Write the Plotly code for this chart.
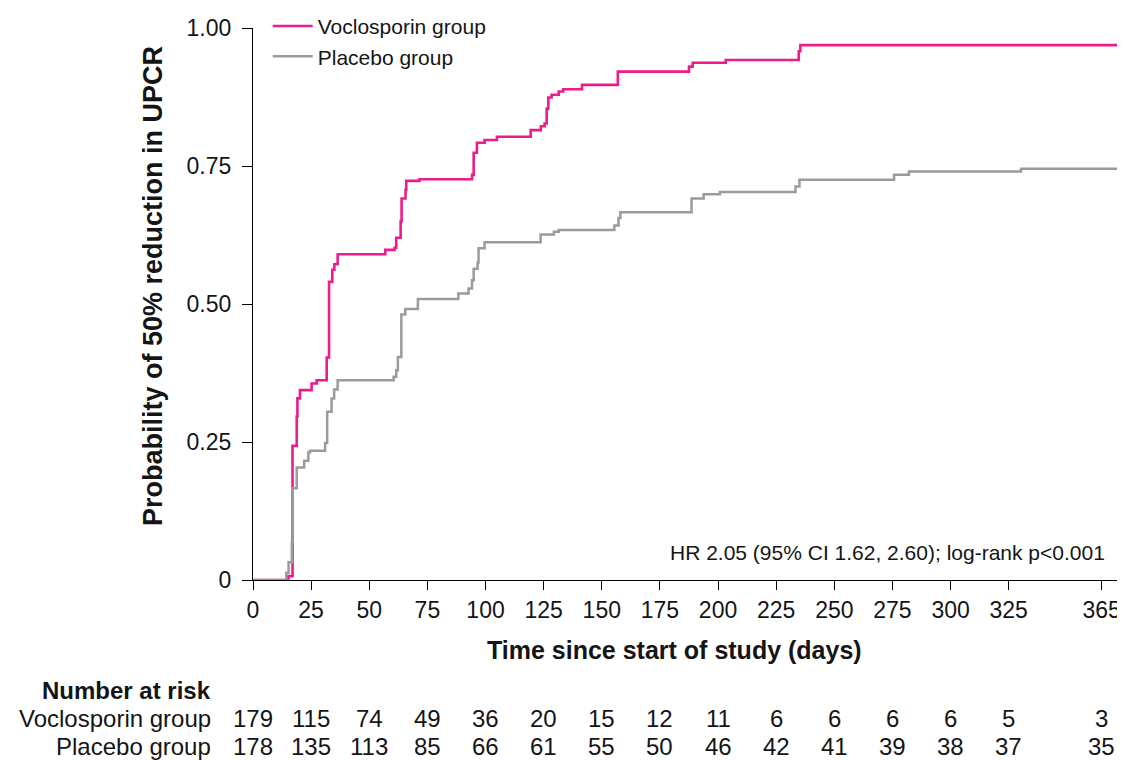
import plotly.graph_objects as go

# ---- data ----
voc_days = [0, 15.2, 17.0, 18.8, 19.1, 20.2, 25.2, 27.4, 31.7, 32.7, 34.1, 35.0, 36.4,
            56.9, 60.9, 61.6, 63.5, 63.9, 65.6, 65.9, 71.6, 94.2, 94.9, 96.3, 99.6,
            104.9, 119.4, 123.8, 125.4, 126.3, 127.0, 128.4, 131.5, 133.4, 141.5,
            156.9, 187.5, 189.1, 203.3, 234.7, 235.4, 372]
voc_prob = [0, 0.007, 0.243, 0.296, 0.329, 0.344, 0.356, 0.362, 0.403, 0.540, 0.562, 0.572, 0.590,
            0.598, 0.602, 0.620, 0.650, 0.691, 0.707, 0.723, 0.726, 0.734, 0.774, 0.792, 0.797,
            0.803, 0.815, 0.822, 0.827, 0.854, 0.874, 0.879, 0.885, 0.889, 0.897,
            0.921, 0.930, 0.937, 0.942, 0.958, 0.969, 0.969]

pla_days = [0, 14.3, 15.3, 16.7, 17.1, 18.8, 22.0, 23.8, 24.5, 31.0, 31.9, 33.8, 34.9, 36.4,
            60.5, 61.6, 62.3, 63.8, 65.5, 70.9, 88.3, 92.7, 94.2, 94.9, 96.6, 97.0, 99.6,
            123.7, 129.4, 131.5, 155.4, 157.2, 158.0, 188.6, 193.8, 200.8, 233.3, 235.0,
            275.7, 282.1, 330.3, 372]
pla_prob = [0, 0.013, 0.032, 0.068, 0.166, 0.204, 0.216, 0.231, 0.234, 0.248, 0.305, 0.329, 0.345, 0.362,
            0.368, 0.380, 0.404, 0.481, 0.491, 0.509, 0.519, 0.528, 0.543, 0.564, 0.575, 0.601, 0.612,
            0.626, 0.631, 0.634, 0.642, 0.656, 0.666, 0.691, 0.699, 0.703, 0.713, 0.725,
            0.734, 0.740, 0.745, 0.745]

x_ticks = [0, 25, 50, 75, 100, 125, 150, 175, 200, 225, 250, 275, 300, 325, 365]
y_ticks = [0, 0.25, 0.5, 0.75, 1.0]
y_tick_labels = ["0", "0.25", "0.50", "0.75", "1.00"]

risk_voc = [179, 115, 74, 49, 36, 20, 15, 12, 11, 6, 6, 6, 6, 5, 3]
risk_pla = [178, 135, 113, 85, 66, 61, 55, 50, 46, 42, 41, 39, 38, 37, 35]

names = ["Voclosporin group", "Placebo group"]
hr_text = "HR 2.05 (95% CI 1.62, 2.60); log-rank p<0.001"

# ---- styling ----
PINK = "#EC1C8C"
GREY = "#9B9B9B"
FONT = "Liberation Sans, Arial, sans-serif"
TXT = "#151515"

OFF = 8  # default page body margin in the browser
W, H = 1125 - OFF, 760 - OFF
ML, MT = 253 - OFF, 28 - OFF
PLOT_R = 1118 - OFF
PLOT_B = 580 - OFF
MR, MB = W - PLOT_R, H - PLOT_B
PW, PH = W - ML - MR, H - MT - MB
X_MAX = 372


def py2paper(py):  # reference page pixel (y) -> paper coordinate
    return (PLOT_B - (py - OFF)) / PH


def px2paper(px):  # reference page pixel (x) -> paper coordinate
    return ((px - OFF) - ML) / PW


fig = go.Figure()
fig.add_trace(go.Scatter(x=voc_days, y=voc_prob, mode="lines", name=names[0],
                         line=dict(color=PINK, width=2.6, shape="hv")))
fig.add_trace(go.Scatter(x=pla_days, y=pla_prob, mode="lines", name=names[1],
                         line=dict(color=GREY, width=2.5, shape="hv")))

ann = []
ann.append(dict(text="<b>Probability of 50% reduction in UPCR</b>", xref="paper", yref="paper",
                x=px2paper(153), y=py2paper(286), textangle=-90,
                showarrow=False, xanchor="center", yanchor="middle",
                font=dict(size=27, color=TXT, family=FONT)))
ann.append(dict(text="<b>Time since start of study (days)</b>", xref="paper", yref="paper",
                x=px2paper(674), y=py2paper(649.5),
                showarrow=False, xanchor="center", yanchor="middle",
                font=dict(size=25, color=TXT, family=FONT)))
ann.append(dict(text=hr_text, xref="paper", yref="paper",
                x=px2paper(1107), y=py2paper(552),
                showarrow=False, xanchor="right", yanchor="middle",
                font=dict(size=21, color=TXT, family=FONT)))
lab_x = px2paper(212)
ann.append(dict(text="<b>Number at risk</b>", xref="paper", yref="paper", x=lab_x, y=py2paper(690.5),
                showarrow=False, xanchor="right", yanchor="middle", borderpad=0,
                font=dict(size=24, color=TXT, family=FONT)))
for label, row, py in [(names[0], risk_voc, 718.5), (names[1], risk_pla, 746.2)]:
    ann.append(dict(text=label, xref="paper", yref="paper", x=lab_x, y=py2paper(py),
                    showarrow=False, xanchor="right", yanchor="middle", borderpad=0,
                    font=dict(size=24, color=TXT, family=FONT)))
    for t, n in zip(x_ticks, row):
        ann.append(dict(text=str(n), xref="x", yref="paper", x=t, y=py2paper(py),
                        showarrow=False, xanchor="center", yanchor="middle", borderpad=0,
                        font=dict(size=24, color=TXT, family=FONT)))

fig.update_layout(
    width=W, height=H,
    margin=dict(l=ML, r=MR, t=MT, b=MB, pad=0, autoexpand=False),
    paper_bgcolor="white", plot_bgcolor="white",
    font=dict(family=FONT, color=TXT),
    showlegend=True,
    legend=dict(x=0.017, y=1.040, xanchor="left", yanchor="top",
                bgcolor="rgba(0,0,0,0)", borderwidth=0,
                font=dict(size=21, color=TXT, family=FONT),
                itemwidth=40, tracegroupgap=0),
    annotations=ann,
    xaxis=dict(range=[0, X_MAX], tickmode="array", tickvals=x_ticks,
               ticktext=[str(t) for t in x_ticks],
               showline=True, linecolor="black", linewidth=1.3,
               ticks="outside", ticklen=9, tickwidth=1.2, tickcolor="black",
               ticklabeloverflow="allow",
               showgrid=False, zeroline=False,
               tickfont=dict(size=23, color=TXT, family=FONT)),
    yaxis=dict(range=[0, 1.0], tickmode="array", tickvals=y_ticks, ticktext=y_tick_labels,
               showline=True, linecolor="black", linewidth=1.3,
               ticks="outside", ticklen=10, tickwidth=1.2, tickcolor="black",
               ticklabelstandoff=6,
               showgrid=False, zeroline=False,
               tickfont=dict(size=23, color=TXT, family=FONT)),
)

fig.write_html("out.html")
